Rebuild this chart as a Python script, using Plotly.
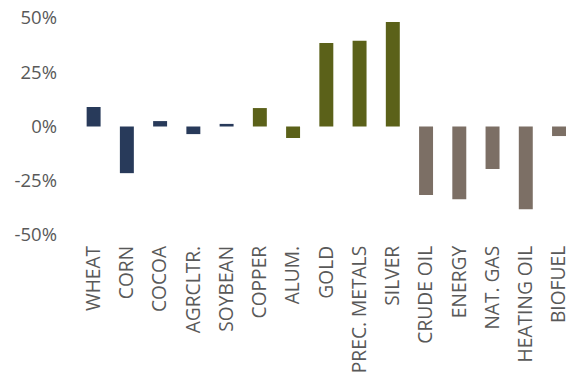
import plotly.graph_objects as go

categories = ["WHEAT", "CORN", "COCOA", "AGRCLTR.", "SOYBEAN", "COPPER", "ALUM.", "GOLD",
              "PREC. METALS", "SILVER", "CRUDE OIL", "ENERGY", "NAT. GAS", "HEATING OIL", "BIOFUEL"]
values = [9.0, -21.5, 2.5, -3.5, 1.2, 8.5, -5.3, 38.5, 39.5, 48.2, -31.6, -33.5, -19.6, -38.1, -4.4]
groups = ["agri"] * 5 + ["metal"] * 5 + ["energy"] * 5
group_colors = {"agri": "#283a5a", "metal": "#5b6119", "energy": "#7c6f65"}
y_tickvals = [50, 25, 0, -25, -50]
y_ticktext = ["50%", "25%", "0%", "-25%", "-50%"]

fig = go.Figure(go.Bar(
    x=categories,
    y=values,
    marker=dict(color=[group_colors[g] for g in groups], line=dict(width=0)),
))

fig.update_layout(
    width=571, height=379,
    margin=dict(l=77, r=0, t=18, b=144),
    paper_bgcolor="white", plot_bgcolor="white",
    bargap=0.58,
    showlegend=False,
    font=dict(family="Open Sans", size=19, color="#595959"),
    xaxis=dict(
        range=[-0.5, 14.36], showgrid=False, zeroline=False, showline=False,
        tickangle=-90, ticks="", tickfont=dict(size=19.2, color="#595959"),
        ticklabelstandoff=6, automargin=False,
    ),
    yaxis=dict(
        range=[-50, 50], tickvals=y_tickvals, ticktext=y_ticktext,
        showgrid=False, zeroline=False, showline=False, ticks="",
        tickfont=dict(size=18.5, color="#595959"), ticklabelstandoff=19,
        automargin=False,
    ),
)

fig.write_html("out.html")
